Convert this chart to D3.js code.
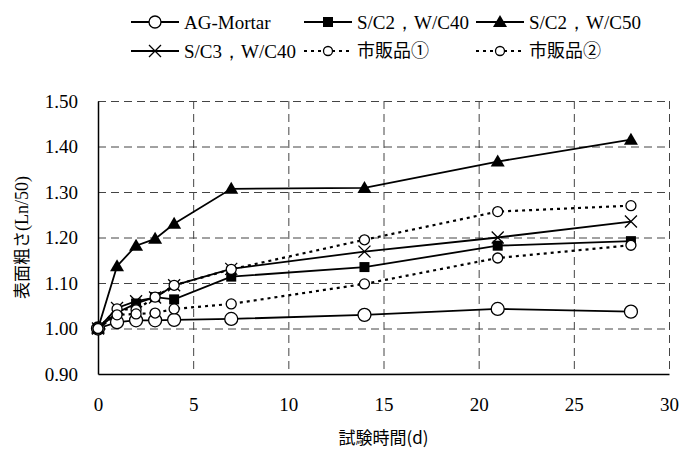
<!DOCTYPE html>
<html>
<head>
<meta charset="utf-8">
<script src="https://cdn.jsdelivr.net/npm/d3@7"></script>
<style>
  body { margin: 0; background: #fff; }
  svg { display: block; }
  .serif { font-family: "Liberation Serif", "Times New Roman", Times, serif; }
  .gothic { font-family: "Noto Sans CJK JP", "Noto Sans", sans-serif; }
</style>
</head>
<body>
<div id="chart"></div>
<script>
// test days
var days = [0, 1, 2, 3, 4, 7, 14, 21, 28];

// surface roughness values (Ln/50)
var agMortar = [1.000, 1.014, 1.018, 1.018, 1.019, 1.021, 1.030, 1.043, 1.037];
var sc2wc40  = [1.000, 1.035, 1.055, 1.069, 1.064, 1.114, 1.135, 1.182, 1.192];
var sc2wc50  = [1.000, 1.137, 1.182, 1.197, 1.230, 1.307, 1.309, 1.367, 1.415];
var sc3wc40  = [1.000, 1.045, 1.060, 1.068, 1.095, 1.131, 1.169, 1.200, 1.235];
var market1  = [1.000, 1.043, 1.041, 1.069, 1.095, 1.130, 1.195, 1.257, 1.270];
var market2  = [1.000, 1.030, 1.032, 1.034, 1.043, 1.054, 1.098, 1.155, 1.183];

var seriesNames = ["AG-Mortar", "S/C2，W/C40", "S/C2，W/C50", "S/C3，W/C40", "市販品①", "市販品②"];

var xTicks = [0, 5, 10, 15, 20, 25, 30];
var yTicks = [0.90, 1.00, 1.10, 1.20, 1.30, 1.40, 1.50];

var width = 684, height = 450;
var margin = {top: 101, right: 15, bottom: 76, left: 98};

var series = [
  {name: seriesNames[0], values: agMortar, marker: "circle", r: 6.5, dash: null},
  {name: seriesNames[1], values: sc2wc40, marker: "square", dash: null},
  {name: seriesNames[2], values: sc2wc50, marker: "triangle", dash: null},
  {name: seriesNames[3], values: sc3wc40, marker: "cross", dash: null},
  {name: seriesNames[4], values: market1, marker: "circle", r: 5, dash: "3,4"},
  {name: seriesNames[5], values: market2, marker: "circle", r: 5, dash: "3,4"}
];

var svg = d3.select("#chart").append("svg")
    .attr("width", width)
    .attr("height", height);

var x = d3.scaleLinear().domain([0, 30]).range([margin.left, width - margin.right]);
var y = d3.scaleLinear().domain([0.90, 1.50]).range([height - margin.bottom, margin.top]);

// grid (dashed)
var grid = svg.append("g").attr("stroke", "#444").attr("stroke-width", 1).attr("stroke-dasharray", "8,5");
grid.selectAll(".hg").data(yTicks.slice(1)).enter().append("line")
    .attr("x1", x(0)).attr("x2", x(30))
    .attr("y1", function(d) { return y(d) + 0.5; })
    .attr("y2", function(d) { return y(d) + 0.5; });
grid.selectAll(".vg").data(xTicks.slice(1)).enter().append("line")
    .attr("y1", y(1.50)).attr("y2", y(0.90))
    .attr("x1", function(d) { return x(d) + 0.5; })
    .attr("x2", function(d) { return x(d) + 0.5; });

// axes
var xAxis = svg.append("g")
    .attr("transform", "translate(0," + y(0.90) + ")")
    .call(d3.axisBottom(x).tickValues(xTicks).tickSize(0).tickPadding(24).tickFormat(d3.format("d")));
var yAxis = svg.append("g")
    .attr("transform", "translate(" + x(0) + ",0)")
    .call(d3.axisLeft(y).tickValues(yTicks).tickSize(0).tickPadding(20).tickFormat(d3.format(".2f")));

[xAxis, yAxis].forEach(function(a) {
  a.attr("font-family", null);
  a.select(".domain").attr("stroke", "#000").attr("stroke-width", 1.5);
  a.selectAll("text").attr("class", "serif").attr("font-size", 19).attr("fill", "#000");
});

// axis titles
svg.append("text")
    .attr("class", "gothic")
    .attr("x", (x(0) + x(30)) / 2)
    .attr("y", 444)
    .attr("text-anchor", "middle")
    .attr("font-size", 17)
    .text("試験時間(d)");

var yt = svg.append("text")
    .attr("class", "gothic")
    .attr("transform", "translate(28," + (y(1.20)) + ") rotate(-90)")
    .attr("text-anchor", "middle")
    .attr("font-size", 17)
    .text("表面粗さ");
yt.append("tspan")
    .attr("class", "serif")
    .attr("font-size", 18)
    .text("(Ln/50)");

function drawMarker(g, s, cx, cy) {
  if (s.marker === "circle") {
    g.append("circle").attr("cx", cx).attr("cy", cy).attr("r", s.r)
      .attr("fill", "#fff").attr("stroke", "#000").attr("stroke-width", 1.3);
  } else if (s.marker === "square") {
    g.append("rect").attr("x", cx - 5).attr("y", cy - 5).attr("width", 10).attr("height", 10)
      .attr("fill", "#000");
  } else if (s.marker === "triangle") {
    g.append("path").attr("d", "M" + cx + "," + (cy - 7) + "L" + (cx + 7) + "," + (cy + 5) + "L" + (cx - 7) + "," + (cy + 5) + "Z")
      .attr("fill", "#000");
  } else if (s.marker === "cross") {
    g.append("path").attr("d", "M" + (cx - 6) + "," + (cy - 6) + "L" + (cx + 6) + "," + (cy + 6) +
        "M" + (cx + 6) + "," + (cy - 6) + "L" + (cx - 6) + "," + (cy + 6))
      .attr("stroke", "#000").attr("stroke-width", 1.3).attr("fill", "none");
  }
}

var line = d3.line()
    .x(function(d) { return x(d[0]); })
    .y(function(d) { return y(d[1]); });

var plot = svg.append("g");
series.forEach(function(s) {
  var pts = days.map(function(d, i) { return [d, s.values[i]]; });
  plot.append("path")
      .datum(pts)
      .attr("d", line)
      .attr("fill", "none")
      .attr("stroke", "#000")
      .attr("stroke-width", s.dash ? 2.2 : 1.8)
      .attr("stroke-dasharray", s.dash);
});
series.forEach(function(s) {
  var g = plot.append("g");
  days.forEach(function(d, i) { drawMarker(g, s, x(d), y(s.values[i])); });
});

// legend: two rows of three
var legendX = [131, 304, 476];
var legendY = [22, 51];
series.forEach(function(s, i) {
  var lx = legendX[i % 3], ly = legendY[Math.floor(i / 3)];
  var g = svg.append("g");
  g.append("line")
      .attr("x1", lx).attr("x2", lx + 48)
      .attr("y1", ly).attr("y2", ly)
      .attr("stroke", "#000")
      .attr("stroke-width", s.dash ? 2 : 1.8)
      .attr("stroke-dasharray", s.dash);
  var ms = Object.assign({}, s);
  if (s.marker === "circle") ms.r = s.dash ? 4.5 : 6;
  drawMarker(g, ms, lx + 24, ly);
  g.append("text")
      .attr("class", i >= 4 ? "gothic" : "serif")
      .attr("x", lx + 53)
      .attr("y", ly)
      .attr("dy", "0.35em")
      .attr("font-size", i >= 4 ? 18 : 19)
      .text(s.name);
});
</script>
</body>
</html>
